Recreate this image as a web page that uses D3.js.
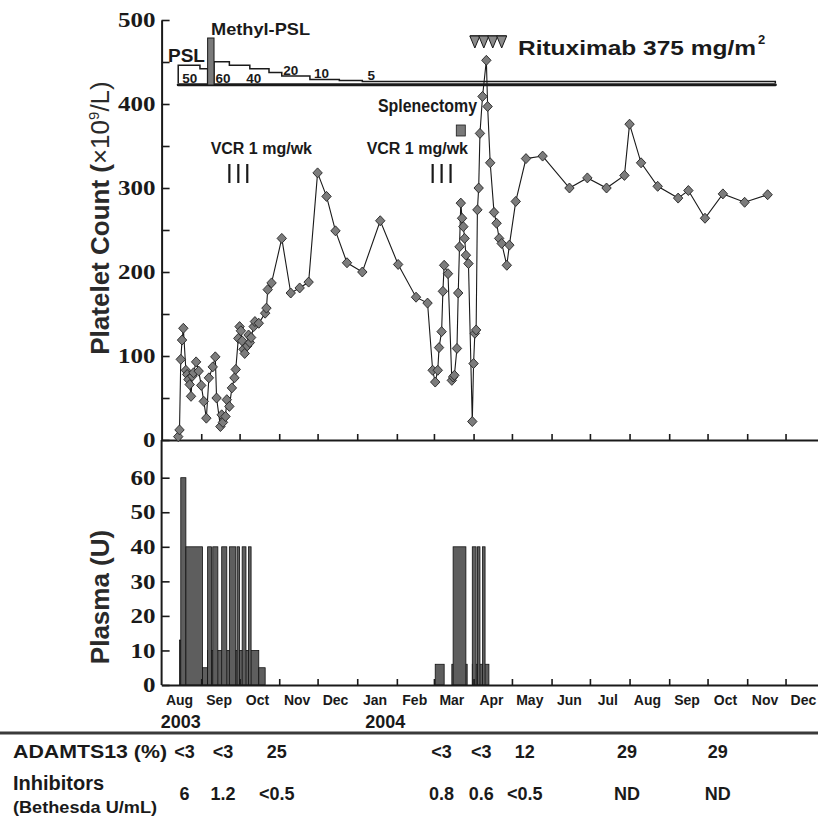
<!DOCTYPE html>
<html>
<head>
<meta charset="utf-8">
<script src="https://cdn.jsdelivr.net/npm/d3@7"></script>
<style>
  body { margin: 0; background: #fff; }
  svg { display: block; font-family: "Liberation Sans", Arial, Helvetica, sans-serif; }
</style>
</head>
<body>
<svg id="chart" width="818" height="823"></svg>
<script>
// ---- data ----
const monthLabels = ["Aug","Sep","Oct","Nov","Dec","Jan","Feb","Mar","Apr","May","Jun","Jul","Aug","Sep","Oct","Nov","Dec"];
const yearLabels = ["2003", "2004"];
const yearLabelDates = ["2003-08-16", "2004-01-23"];

const plateletDates = [
  "2003-08-14","2003-08-15","2003-08-16","2003-08-17","2003-08-18","2003-08-20","2003-08-21","2003-08-22","2003-08-23","2003-08-24","2003-08-25","2003-08-26","2003-08-28","2003-08-30",
  "2003-09-01","2003-09-03","2003-09-05","2003-09-07","2003-09-10","2003-09-12","2003-09-13","2003-09-16","2003-09-17","2003-09-18","2003-09-20","2003-09-21","2003-09-23","2003-09-25","2003-09-27","2003-09-28","2003-09-30",
  "2003-10-01","2003-10-02","2003-10-03","2003-10-04","2003-10-05","2003-10-07","2003-10-08","2003-10-09","2003-10-10","2003-10-12","2003-10-13","2003-10-16","2003-10-21","2003-10-22","2003-10-23","2003-10-26",
  "2003-11-03","2003-11-10","2003-11-17","2003-11-24","2003-12-01","2003-12-08","2003-12-15","2003-12-24",
  "2004-01-05","2004-01-19","2004-02-02","2004-02-16","2004-02-25","2004-02-29","2004-03-02","2004-03-04","2004-03-05","2004-03-07","2004-03-08","2004-03-09","2004-03-12","2004-03-15","2004-03-16","2004-03-17","2004-03-19","2004-03-20","2004-03-21","2004-03-22","2004-03-23","2004-03-24","2004-03-25","2004-03-26","2004-03-28","2004-03-31",
  "2004-04-01","2004-04-02","2004-04-03","2004-04-04","2004-04-05","2004-04-06","2004-04-08","2004-04-11","2004-04-12","2004-04-14","2004-04-17","2004-04-19","2004-04-21","2004-04-23","2004-04-27","2004-04-29","2004-05-04","2004-05-12","2004-05-25",
  "2004-06-15","2004-06-29","2004-07-14","2004-07-28","2004-08-01","2004-08-10","2004-08-23","2004-09-08","2004-09-16","2004-09-29","2004-10-13","2004-10-30","2004-11-17"
];
const plateletCounts = [
  4, 12, 96, 119, 133, 83, 78, 72, 66, 52, 76, 80, 93, 82,
  65, 46, 26, 74, 87, 99, 50, 16, 30, 21, 28, 48, 40, 62, 74, 84, 121,
  135, 130, 118, 108, 103, 112, 125, 116, 122, 135, 141, 139, 151, 157, 179, 187,
  240, 175, 181, 188, 318, 290, 249, 211,
  200, 261, 209, 170, 163, 83, 69, 83, 110, 129, 177, 208, 198, 71, 75, 77, 109, 175, 230, 282, 264, 254, 240, 220, 210, 22,
  91, 127, 131, 274, 300, 365, 409, 452, 397, 330, 271, 258, 240, 234, 208, 232, 284, 335, 338,
  300, 312, 300, 315, 376, 330, 302, 288, 297, 264, 293, 283, 292
];

// plasma infusions (units)
const plasmaStart = ["2003-08-15","2003-08-16","2003-08-20","2003-09-02","2003-09-06","2003-10-16",
  "2003-09-06","2003-09-10","2003-09-17","2003-09-23","2003-09-29","2003-10-03","2003-10-08",
  "2004-03-02","2004-03-15","2004-03-16","2004-03-31","2004-03-31","2004-04-04","2004-04-08"];
const plasmaEnd = ["2003-08-16","2003-08-20","2003-09-02","2003-09-06","2003-10-16","2003-10-21",
  "2003-09-09","2003-09-14","2003-09-21","2003-09-28","2003-10-01","2003-10-06","2003-10-10",
  "2004-03-09","2004-03-27","2004-03-26","2004-04-13","2004-04-03","2004-04-06","2004-04-10"];
const plasmaUnits = [13, 60, 40, 5, 10, 5, 40, 40, 40, 40, 40, 40, 40, 6, 6, 40, 6, 40, 40, 40];

// prednisolone taper (mg/day)
const pslStart = ["2003-08-14","2003-08-31","2003-09-11","2003-09-23","2003-10-09","2003-10-24","2003-11-03","2003-11-25","2003-12-18","2004-01-05"];
const pslEnd   = ["2003-08-31","2003-09-06","2003-09-23","2003-10-09","2003-10-24","2003-11-03","2003-11-25","2003-12-18","2004-01-05","2004-11-23"];
const pslDose  = [50, 40, 60, 50, 40, 30, 20, 10, 7.5, 5];
const pslLabelText  = ["50", "60", "40", "20", "10", "5"];
const pslLabelDates = ["2003-08-23", "2003-09-18", "2003-10-12", "2003-11-10", "2003-12-04", "2004-01-12"];
const pslLabelDose  = [50, 60, 40, 20, 10, 5];
const methylPslStart = "2003-09-06";
const methylPslEnd = "2003-09-11";

const vcrDates = ["2003-09-23", "2003-09-30", "2003-10-07", "2004-02-29", "2004-03-07", "2004-03-14"];
const vcrLabelDates = ["2003-10-18", "2004-02-17"];
const rituximabDates = ["2004-04-02", "2004-04-09", "2004-04-16", "2004-04-23"];
const splenectomyDate = "2004-03-22";

const tableDates = ["2003-08-19","2003-09-18","2003-10-30","2004-03-07","2004-04-07","2004-05-11","2004-07-30","2004-10-09"];
const adamtsValues = ["<3", "<3", "25", "<3", "<3", "12", "29", "29"];
const inhibitorValues = ["6", "1.2", "<0.5", "0.8", "0.6", "<0.5", "ND", "ND"];

// ---- setup ----
const parse = d3.timeParse("%Y-%m-%d");
const svg = d3.select("#chart");
const ink = "#1a1a1a";

const x = d3.scaleTime()
  .domain([parse("2003-08-01"), parse("2004-12-31")])
  .range([161.6, 823.9]);
const x0 = x.range()[0];
const yTop = d3.scaleLinear().domain([0, 500]).range([440, 20]);
const yBot = d3.scaleLinear().domain([0, 60]).range([685, 477.7]);
const yDose = d3.scaleLinear().domain([0, 60]).range([83.2, 61.7]);

const monthStarts = d3.timeMonth.range(parse("2003-09-01"), parse("2005-01-01"));
const monthMids = d3.timeMonth.range(parse("2003-08-01"), parse("2005-01-01")).map(d => d3.timeDay.offset(d, 14));

function styleAxis(g) {
  g.select(".domain").attr("stroke", ink).attr("stroke-width", 2);
  g.selectAll(".tick line").attr("stroke", ink).attr("stroke-width", 1.6);
}

// ---- top panel: platelet count ----
const topY = svg.append("g")
  .attr("transform", `translate(${x0},0)`)
  .call(d3.axisLeft(yTop).tickValues(d3.range(0, 501, 50)).tickSizeInner(-8).tickSizeOuter(0).tickPadding(6)
    .tickFormat(d => d % 100 === 0 ? d : ""));
styleAxis(topY);

const topX = svg.append("g")
  .attr("transform", `translate(0,${yTop(0)})`)
  .call(d3.axisBottom(x).tickValues(monthStarts).tickSizeInner(-6).tickSizeOuter(0).tickFormat(""));
styleAxis(topX);

// ---- bottom panel: plasma ----
svg.append("line")
  .attr("x1", x0).attr("x2", x0).attr("y1", yTop(0)).attr("y2", yBot(0))
  .attr("stroke", ink).attr("stroke-width", 2);

const botY = svg.append("g")
  .attr("transform", `translate(${x0},0)`)
  .call(d3.axisLeft(yBot).tickValues(d3.range(0, 61, 10)).tickSizeInner(-8).tickSizeOuter(0).tickPadding(6));
botY.select(".domain").remove();
botY.selectAll(".tick line").attr("stroke", ink).attr("stroke-width", 1.6);

[topY, botY].forEach(g => {
  g.selectAll("text")
    .attr("font-family", "'Liberation Serif', 'Times New Roman', serif")
    .attr("font-weight", "bold")
    .attr("font-size", 21)
    .attr("fill", ink)
    .each(function() {
      const n = this.textContent.length;
      if (n) d3.select(this).attr("textLength", n * 12.5).attr("lengthAdjust", "spacingAndGlyphs");
    });
});

const plasma = plasmaUnits.map((u, i) => ({ s: parse(plasmaStart[i]), e: parse(plasmaEnd[i]), u }));
svg.append("g").selectAll("rect")
  .data(plasma)
  .join("rect")
  .attr("x", d => x(d.s))
  .attr("width", d => x(d.e) - x(d.s))
  .attr("y", d => yBot(d.u))
  .attr("height", d => yBot(0) - yBot(d.u))
  .attr("fill", "#5e5e5e")
  .attr("stroke", "#111")
  .attr("stroke-width", 0.8);

const botX = svg.append("g")
  .attr("transform", `translate(0,${yBot(0)})`)
  .call(d3.axisBottom(x).tickValues(monthStarts).tickSizeInner(-6).tickSizeOuter(0).tickFormat(""));
styleAxis(botX);

// month and year labels
svg.append("g").selectAll("text")
  .data(monthMids)
  .join("text")
  .attr("x", d => x(d))
  .attr("y", 705)
  .attr("text-anchor", "middle")
  .attr("font-size", 14)
  .attr("font-weight", "bold")
  .attr("fill", ink)
  .text((d, i) => monthLabels[i]);

svg.append("g").selectAll("text")
  .data(yearLabels)
  .join("text")
  .attr("x", (d, i) => x(parse(yearLabelDates[i])))
  .attr("y", 728)
  .attr("text-anchor", "middle")
  .attr("font-size", 18)
  .attr("font-weight", "bold")
  .attr("fill", ink)
  .text(d => d);

// axis titles
const title = svg.append("text")
  .attr("transform", `translate(109,218) rotate(-90)`)
  .attr("text-anchor", "middle")
  .attr("font-size", 26)
  .attr("fill", "#2a2a2a");
title.append("tspan").attr("font-weight", "bold").text("Platelet Count (");
title.append("tspan").text("×10");
title.append("tspan").attr("font-size", 15).attr("dy", -10).text("9");
title.append("tspan").attr("dy", 10).text("/L)");

svg.append("text")
  .attr("transform", `translate(109,597) rotate(-90)`)
  .attr("text-anchor", "middle")
  .attr("font-size", 26)
  .attr("font-weight", "bold")
  .attr("fill", "#2a2a2a")
  .text("Plasma (U)");

// ---- steroid strip ----
const psl = pslDose.map((dose, i) => ({ s: parse(pslStart[i]), e: parse(pslEnd[i]), dose }));
svg.append("line")
  .attr("x1", x(psl[0].s)).attr("x2", x(psl[psl.length - 1].e))
  .attr("y1", 84.7).attr("y2", 84.7)
  .attr("stroke", ink).attr("stroke-width", 3)
  .attr("stroke-linecap", "round");

const stepPath = d3.path();
psl.forEach((p, i) => {
  const prev = psl[i - 1];
  if (!prev || +prev.e !== +p.s) stepPath.moveTo(x(p.s), yDose(0));
  stepPath.lineTo(x(p.s), yDose(p.dose));
  stepPath.lineTo(x(p.e), yDose(p.dose));
  const next = psl[i + 1];
  if (!next || +next.s !== +p.e) stepPath.lineTo(x(p.e), yDose(0));
});
svg.append("path")
  .attr("d", stepPath.toString())
  .attr("fill", "none")
  .attr("stroke", ink)
  .attr("stroke-width", 1.5);

svg.append("rect")
  .attr("x", x(parse(methylPslStart)))
  .attr("width", x(parse(methylPslEnd)) - x(parse(methylPslStart)))
  .attr("y", 38)
  .attr("height", 47)
  .attr("fill", "#7a7a7a")
  .attr("stroke", ink)
  .attr("stroke-width", 1);

svg.append("g").selectAll("text")
  .data(pslLabelText)
  .join("text")
  .attr("x", (d, i) => x(parse(pslLabelDates[i])))
  .attr("y", (d, i) => pslLabelDose[i] >= 40 ? 82.5 : yDose(pslLabelDose[i]) - 1.5)
  .attr("text-anchor", "middle")
  .attr("font-size", 13.5)
  .attr("font-weight", "bold")
  .attr("fill", ink)
  .text(d => d);

svg.append("text")
  .attr("x", 168).attr("y", 62)
  .attr("font-size", 19).attr("font-weight", "bold").attr("fill", ink)
  .text("PSL");
svg.append("text")
  .attr("x", 211).attr("y", 35)
  .attr("font-size", 16.5).attr("font-weight", "bold").attr("fill", ink)
  .attr("textLength", 99).attr("lengthAdjust", "spacingAndGlyphs")
  .text("Methyl-PSL");

// ---- rituximab ----
const rtx = rituximabDates.map(parse);
svg.append("line")
  .attr("x1", x(rtx[0]) - 5).attr("x2", x(rtx[rtx.length - 1]) + 5)
  .attr("y1", 36).attr("y2", 36)
  .attr("stroke", ink).attr("stroke-width", 1.5);
svg.append("g").selectAll("path")
  .data(rtx)
  .join("path")
  .attr("d", d => `M${x(d) - 5},36L${x(d) + 5},36L${x(d)},48Z`)
  .attr("fill", "#8a8a8a")
  .attr("stroke", ink)
  .attr("stroke-width", 1);
svg.append("text")
  .attr("x", 518).attr("y", 55)
  .attr("font-size", 20).attr("font-weight", "bold").attr("fill", ink)
  .attr("textLength", 238).attr("lengthAdjust", "spacingAndGlyphs")
  .text("Rituximab 375 mg/m");
svg.append("text")
  .attr("x", 758).attr("y", 44)
  .attr("font-size", 13).attr("font-weight", "bold").attr("fill", ink)
  .text("2");

// ---- splenectomy ----
svg.append("text")
  .attr("x", 378).attr("y", 112)
  .attr("font-size", 17.5).attr("font-weight", "bold").attr("fill", ink)
  .attr("textLength", 99).attr("lengthAdjust", "spacingAndGlyphs")
  .text("Splenectomy");
svg.append("rect")
  .attr("x", x(parse(splenectomyDate)) - 4.5)
  .attr("width", 9)
  .attr("y", 125).attr("height", 11)
  .attr("fill", "#7a7a7a").attr("stroke", ink).attr("stroke-width", 0.8);

// ---- vincristine ----
svg.append("g").selectAll("text")
  .data(vcrLabelDates)
  .join("text")
  .attr("x", d => x(parse(d)))
  .attr("y", 154)
  .attr("text-anchor", "middle")
  .attr("font-size", 16)
  .attr("font-weight", "bold")
  .attr("fill", ink)
  .text("VCR 1 mg/wk");
svg.append("g").selectAll("line")
  .data(vcrDates)
  .join("line")
  .attr("x1", d => x(parse(d))).attr("x2", d => x(parse(d)))
  .attr("y1", 164).attr("y2", 183)
  .attr("stroke", ink).attr("stroke-width", 2.2);

// ---- platelet line + diamonds ----
const platelets = plateletCounts.map((c, i) => ({ date: parse(plateletDates[i]), count: c }));
svg.append("path")
  .datum(platelets)
  .attr("d", d3.line().x(d => x(d.date)).y(d => yTop(d.count)))
  .attr("fill", "none")
  .attr("stroke", ink)
  .attr("stroke-width", 1.1);
svg.append("g").selectAll("path")
  .data(platelets)
  .join("path")
  .attr("transform", d => `translate(${x(d.date)},${yTop(d.count)})`)
  .attr("d", "M0,-5L4.7,0L0,5L-4.7,0Z")
  .attr("fill", "#7c7c7c")
  .attr("stroke", "#222")
  .attr("stroke-width", 0.9);

// ---- table ----
svg.append("line")
  .attr("x1", 0).attr("x2", 818).attr("y1", 733).attr("y2", 733)
  .attr("stroke", "#3a3a3a").attr("stroke-width", 3);

svg.append("text")
  .attr("x", 13).attr("y", 758)
  .attr("font-size", 18).attr("font-weight", "bold").attr("fill", ink)
  .attr("textLength", 154).attr("lengthAdjust", "spacingAndGlyphs")
  .text("ADAMTS13 (%)");
svg.append("text")
  .attr("x", 13).attr("y", 790)
  .attr("font-size", 20).attr("font-weight", "bold").attr("fill", ink)
  .text("Inhibitors");
svg.append("text")
  .attr("x", 13).attr("y", 813)
  .attr("font-size", 16.5).attr("font-weight", "bold").attr("fill", ink)
  .attr("textLength", 144).attr("lengthAdjust", "spacingAndGlyphs")
  .text("(Bethesda U/mL)");

svg.append("g").selectAll("text")
  .data(adamtsValues)
  .join("text")
  .attr("x", (d, i) => x(parse(tableDates[i])))
  .attr("y", 758)
  .attr("text-anchor", "middle")
  .attr("font-size", 18).attr("font-weight", "bold").attr("fill", ink)
  .text(d => d);
svg.append("g").selectAll("text")
  .data(inhibitorValues)
  .join("text")
  .attr("x", (d, i) => x(parse(tableDates[i])))
  .attr("y", 800)
  .attr("text-anchor", "middle")
  .attr("font-size", 18).attr("font-weight", "bold").attr("fill", ink)
  .text(d => d);
</script>
</body>
</html>
